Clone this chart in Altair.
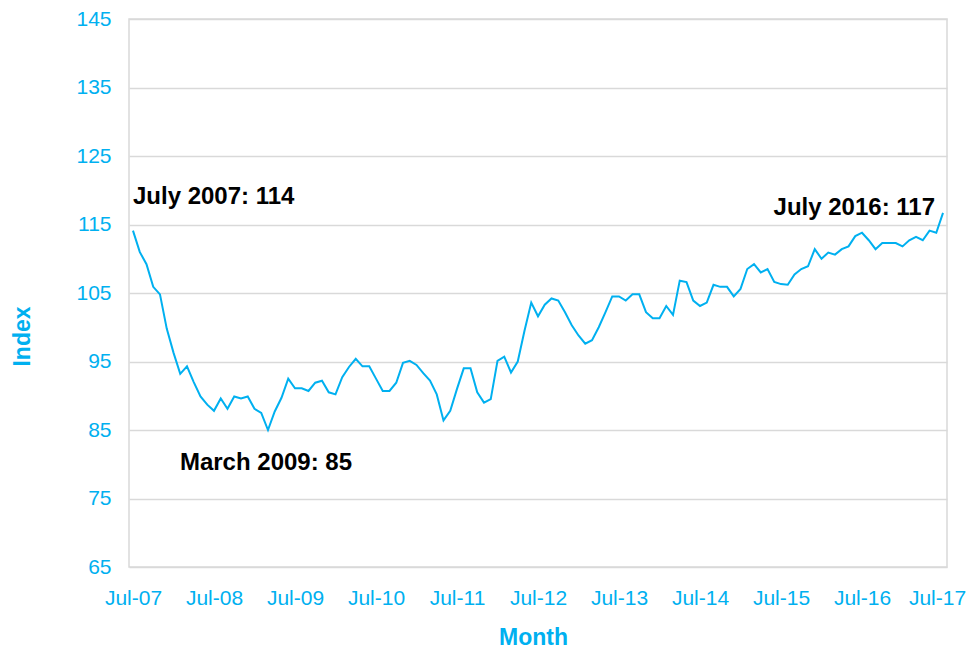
import json
import altair as alt
import pandas as pd

# ---- data ----
tick_labels = ["Jul-07", "Jul-08", "Jul-09", "Jul-10", "Jul-11", "Jul-12",
               "Jul-13", "Jul-14", "Jul-15", "Jul-16", "Jul-17"]

index_values = [
    114.1, 111.0, 109.2, 105.9, 104.8, 99.8, 96.3, 93.2, 94.3, 92.0, 89.9, 88.7,
    87.8, 89.6, 88.1, 89.9, 89.6, 89.9, 88.1, 87.5, 85.0, 87.7, 89.7, 92.5,
    91.1, 91.1, 90.7, 91.9, 92.2, 90.5, 90.2, 92.7, 94.2, 95.4, 94.3, 94.3,
    92.5, 90.7, 90.7, 91.9, 94.8, 95.1, 94.5, 93.3, 92.2, 90.2, 86.4, 87.8,
    91.0, 94.0, 94.0, 90.5, 89.0, 89.5, 95.1, 95.7, 93.4, 95.0, 99.5, 103.6,
    101.6, 103.3, 104.2, 103.9, 102.2, 100.3, 98.8, 97.6, 98.1, 100.0, 102.2, 104.5,
    104.5, 103.9, 104.8, 104.8, 102.2, 101.3, 101.3, 103.1, 101.8, 106.8, 106.6, 103.9,
    103.1, 103.6, 106.2, 105.9, 105.9, 104.5, 105.6, 108.5, 109.2, 108.0, 108.5, 106.6,
    106.3, 106.2, 107.7, 108.5, 108.9, 111.4, 110.0, 110.9, 110.6, 111.4, 111.8, 113.3,
    113.8, 112.7, 111.4, 112.3, 112.3, 112.3, 111.8, 112.7, 113.2, 112.7, 114.1, 113.8,
    116.7,
]

y_ticks = [65, 75, 85, 95, 105, 115, 125, 135, 145]

annotation_text = ["July 2007: 114", "March 2009: 85", "July 2016: 117"]
annotation_point = [0, 20, 120]          # index of the data point each label refers to

months = pd.date_range("2007-07-01", periods=len(index_values), freq="MS")
df = pd.DataFrame({
    "m": list(range(len(index_values))),
    "Month": months.strftime("%b-%y"),
    "Index": index_values,
})

BLUE = "#00B0F0"
GRID = "#D9D9D9"
FONT = "Liberation Sans"

label_expr = json.dumps(tick_labels) + "[round(datum.value / 12)]"
last_tick = 12 * (len(tick_labels) - 1)

x_enc = alt.X(
    "m:Q",
    scale=alt.Scale(domain=[-0.59, 120.59], nice=False, zero=False),
    axis=alt.Axis(
        values=list(range(0, last_tick + 1, 12)), labelExpr=label_expr, grid=False,
        ticks=False, tickSize=0, domain=False, labelPadding=20, labelFlush=False,
        labelOverlap=False, labelFontSize=21, labelFont=FONT, labelColor=BLUE,
        labelOffset={"condition": {"test": f"datum.value >= {last_tick}", "value": -6},
                     "value": 0},
        title="Month", titleFont=FONT, titleFontSize=23, titleFontWeight="bold",
        titleColor=BLUE, titleX=404, titleY=70, titleAlign="center",
        titleBaseline="middle",
    ),
)
y_enc = alt.Y(
    "Index:Q",
    scale=alt.Scale(domain=[65, 145], nice=False, zero=False),
    axis=alt.Axis(
        values=y_ticks, grid=True, gridColor=GRID, gridWidth=1.5, ticks=False,
        tickSize=0, domain=False, labelPadding=18, labelFontSize=21,
        labelFont=FONT, labelColor=BLUE, title="Index", titleFont=FONT,
        titleFontSize=23, titleFontWeight="bold", titleColor=BLUE,
        titleX=-107, titleY=317, titleAngle=270, titleAlign="center",
        titleBaseline="middle",
    ),
)

line = alt.Chart(df).mark_line(color=BLUE, strokeWidth=2).encode(x=x_enc, y=y_enc)

ann_styles = [
    {"dx": 0, "dy": -34, "align": "left"},
    {"dx": -2, "dy": 33, "align": "center"},
    {"dx": -8, "dy": -5, "align": "right"},
]

layers = [line]
for txt, idx, st in zip(annotation_text, annotation_point, ann_styles):
    adf = pd.DataFrame({"m": [idx], "Index": [index_values[idx]], "label": [txt]})
    layers.append(
        alt.Chart(adf).mark_text(
            font=FONT, fontSize=24, fontWeight="bold", color="#000000",
            baseline="middle", **st
        ).encode(x="m:Q", y="Index:Q", text="label:N")
    )

chart = (
    alt.layer(*layers)
    .properties(
        width=818, height=548,
        padding={"left": 121, "top": 11, "right": 20, "bottom": 83},
        autosize=alt.AutoSizeParams(type="none"),
        background="white",
    )
    .configure_view(stroke=GRID, strokeWidth=1.5)
)

chart.save("out.html", embed_options={"renderer": "svg", "actions": False})
